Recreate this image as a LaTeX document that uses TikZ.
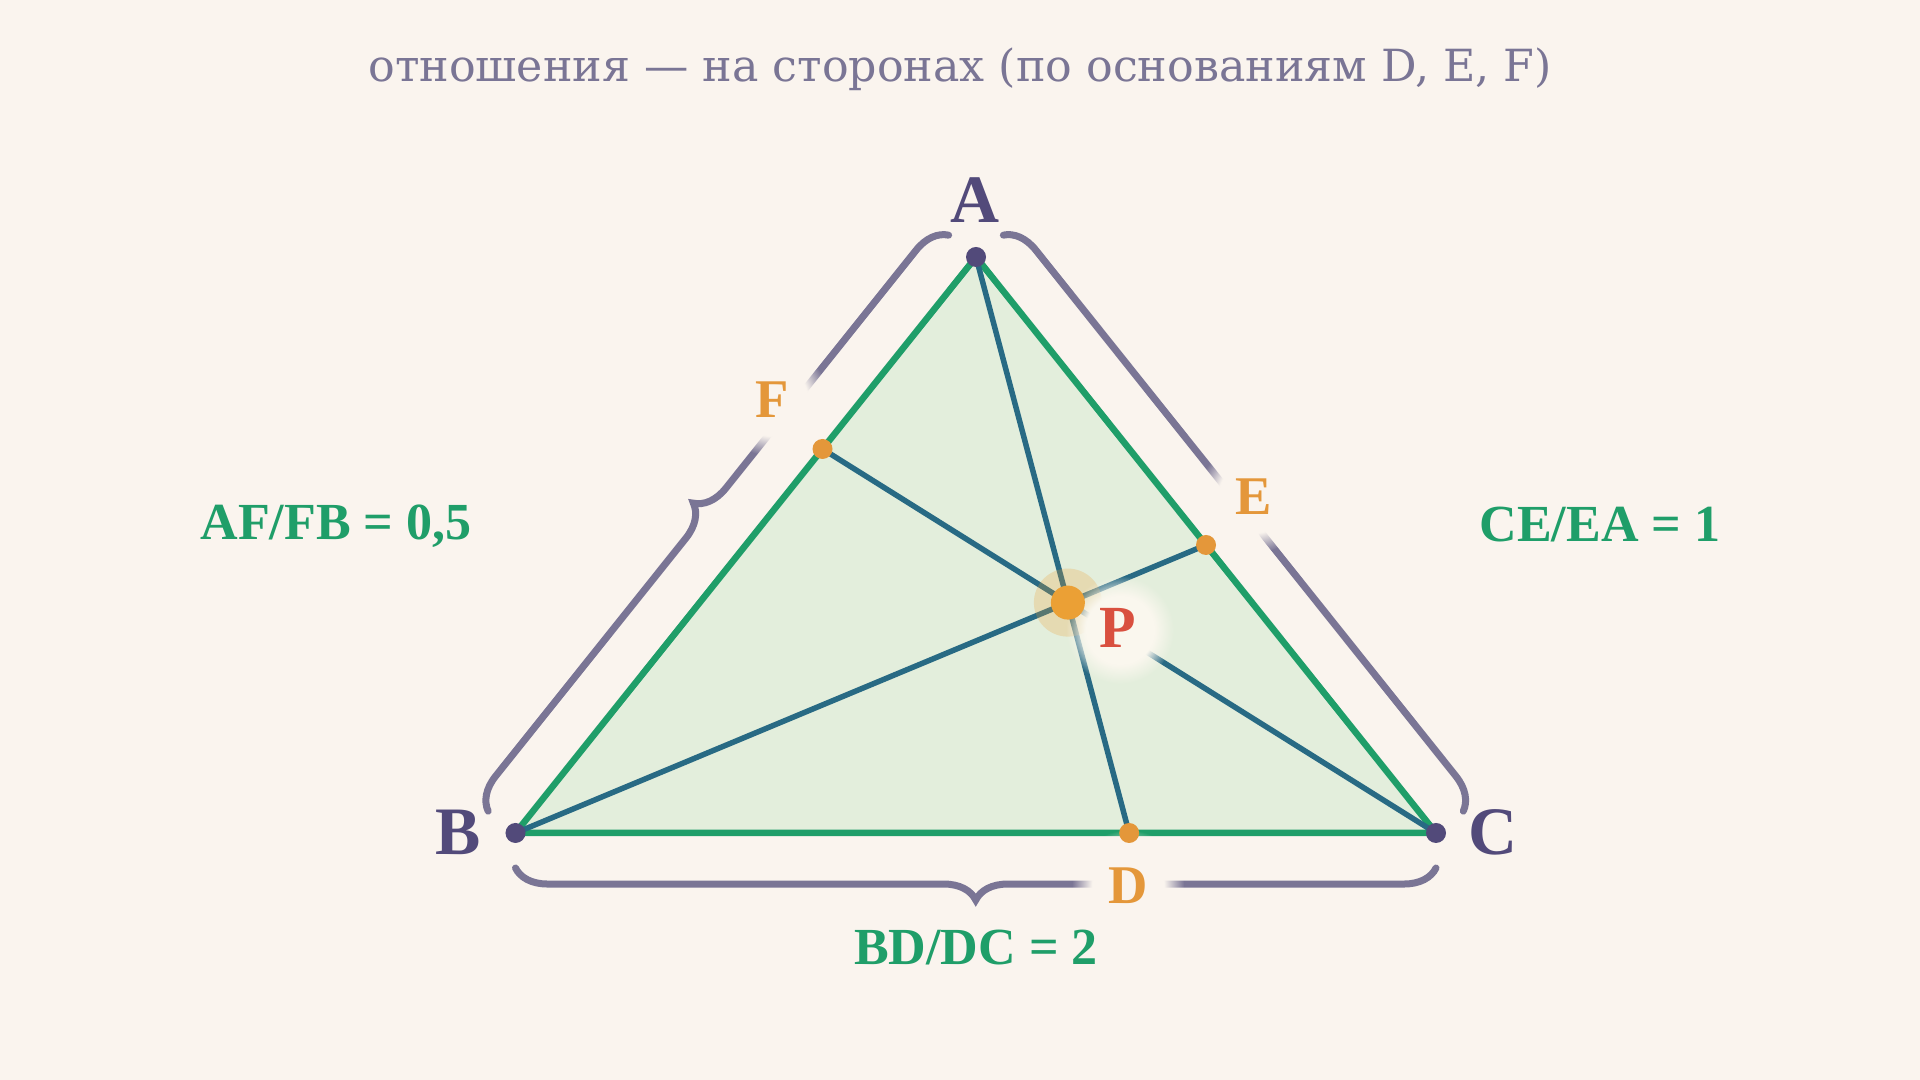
\documentclass[tikz,border=0pt]{standalone}
\usepackage{fontspec}
\setmainfont{Liberation Serif}
\newfontfamily\titlefont{DejaVu Serif}
\usetikzlibrary{calc, decorations.pathreplacing, fadings}

\definecolor{bgcol}{HTML}{FAF4EE}
\definecolor{titlecol}{HTML}{7A7595}
\definecolor{vertcol}{HTML}{524A7A}
\definecolor{sidecol}{HTML}{1F9E69}
\definecolor{fillcol}{HTML}{E3EEDC}
\definecolor{cevcol}{HTML}{286A84}
\definecolor{ptcol}{HTML}{E4973A}
\definecolor{pdotcol}{HTML}{EBA035}
\definecolor{redcol}{HTML}{D9503F}
\definecolor{bracecol}{HTML}{7A7595}
\definecolor{glowcol}{HTML}{FAF7EE}

% 标签周围的柔和光晕
\pgfdeclareradialshading{haloshading}{\pgfpointorigin}{color(0bp)=(white); color(16bp)=(white); color(25bp)=(black); color(50bp)=(black)}
\pgfdeclarefading{halofade}{\pgfuseshading{haloshading}}

\tikzset{
	sideline/.style={draw=sidecol, line width=0.65mm, line join=round},
	cevian/.style={draw=cevcol, line width=0.55mm, line cap=round},
	sidebrace/.style={draw=bracecol, line width=0.7mm, line cap=round, decorate,
			decoration={brace, amplitude=3.2mm, raise=3.5mm}},
	vlabel/.style={inner sep=0pt, text=vertcol, font=\fontsize{19.3pt}{23pt}\selectfont\bfseries},
	ptlabel/.style={inner sep=0pt, text=ptcol, font=\fontsize{15.5pt}{18pt}\selectfont\bfseries},
	plabel/.style={inner sep=0pt, text=redcol, font=\fontsize{17pt}{20pt}\selectfont\bfseries},
	ratiolabel/.style={inner sep=0pt, anchor=base, text=sidecol, font=\fontsize{14.8pt}{18pt}\selectfont\bfseries},
	titletext/.style={inner sep=0pt, anchor=base, text=titlecol, font=\titlefont\fontsize{12.6pt}{15pt}\selectfont}
}

\begin{document}
\begin{tikzpicture}[x=0.01cm, y=-0.01cm]
		% 背景与画布大小
		\fill[bgcol] (0, 0) rectangle (1920, 1080);
		\useasboundingbox (0, 0) rectangle (1920, 1080);

		% 三角形的顶点、边上的点和交点 P
		\coordinate (A) at (976, 257);
		\coordinate (B) at (515.5, 833);
		\coordinate (C) at (1436, 833);
		\coordinate (D) at ($(B)!2/3!(C)$);
		\coordinate (E) at ($(C)!1/2!(A)$);
		\coordinate (F) at ($(A)!1/3!(B)$);
		\coordinate (P) at (1067.9, 602.6);

		% 标题
		\node[titletext] (title) at (960, 82) {отношения — на сторонах (по основаниям D, E, F)};

		% 三角形的填充和边
		\fill[fillcol] (A) -- (B) -- (C) -- cycle;
		\draw[sideline] (A) -- (B) -- (C) -- cycle;

		% 三条塞瓦线
		\foreach \s/\t in {A/D, B/E, C/F} {
				\draw[cevian] (\s) -- (\t);
			}

		% 各边外侧的大括号
		\draw[sidebrace] (B) -- (A);
		\draw[sidebrace] (A) -- (C);
		\draw[sidebrace] (C) -- (B);

		% 边上点的字母下面的底色，遮住括号
		\foreach \x/\y in {772/400, 1254/497, 1128/886} {
				\fill[bgcol, path fading=halofade] (\x, \y) circle (5.6mm);
			}

		% 交点 P 的光晕
		\fill[pdotcol, opacity=0.25] (P) circle (3.4mm);
		\fill[glowcol, path fading=halofade] (1120, 630) circle (5.4mm);

		% 顶点和边上的点
		\foreach \p in {A, B, C} {
				\fill[vertcol] (\p) circle (1mm);
			}
		\foreach \p in {D, E, F} {
				\fill[ptcol] (\p) circle (1mm);
			}
		\fill[pdotcol] (P) circle (1.7mm);

		% 顶点的字母
		\foreach \p/\x/\y in {A/975/200, B/458/832, C/1493/832} {
				\node[vlabel] (lab\p) at (\x, \y) {\p};
			}

		% 边上点的字母
		\foreach \p/\x/\y in {F/772/400, E/1254/497, D/1128/886} {
				\node[ptlabel] (lab\p) at (\x, \y) {\p};
			}
		\node[plabel] (labP) at (1118, 628) {P};

		% 三个比值
		\node[ratiolabel] (ratioAB) at (336, 540) {AF/FB = 0,5};
		\node[ratiolabel] (ratioCA) at (1600, 542) {CE/EA = 1};
		\node[ratiolabel] (ratioBC) at (976, 965) {BD/DC = 2};
	\end{tikzpicture}
\end{document}
